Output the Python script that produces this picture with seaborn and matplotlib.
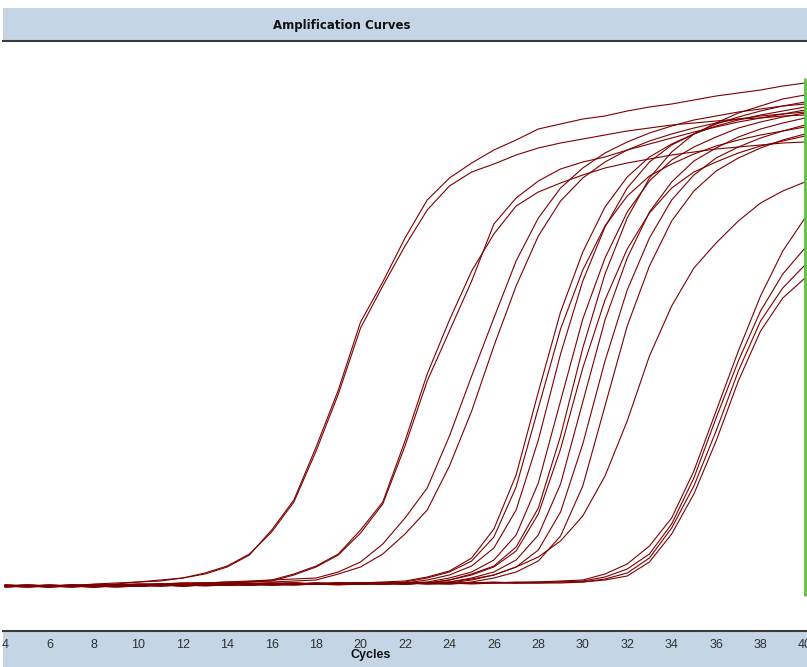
import pandas as pd
import matplotlib
matplotlib.use("Agg")
import matplotlib.pyplot as plt
import seaborn as sns
from matplotlib.patches import Rectangle

# cycle numbers and fluorescence per well (baseline ~0)
cycles = list(range(4, 41))

a1 = [0, -1, 0, 1, 1, 2, 4, 6, 8, 12, 19, 31,
      56, 86, 139, 196, 264, 304, 348, 386, 408, 423, 436, 446, 457, 462, 467, 470,
      475, 479, 482, 486, 490, 493, 496, 500, 503]
a2 = [1, 0, -1, 0, 2, 3, 4, 5, 8, 13, 20, 32,
      54, 84, 135, 192, 258, 300, 340, 376, 400, 414, 422, 431, 438, 443, 447, 451,
      455, 458, 461, 463, 465, 467, 468, 470, 471]
b1 = [-1, 0, 1, 0, 0, 1, 2, 2, 3, 3, 4, 4,
      6, 12, 20, 32, 56, 84, 145, 212, 266, 315, 352, 380, 394, 403, 411, 418,
      423, 427, 431, 434, 437, 439, 441, 443, 444]
b2 = [0, 1, 0, -1, 1, 1, 1, 2, 2, 3, 3, 4,
      5, 11, 19, 31, 53, 82, 140, 205, 255, 305, 362, 388, 405, 417, 424, 429,
      436, 442, 448, 454, 459, 464, 468, 472, 476]
c1 = [0, 0, -1, 1, 0, 1, 2, 2, 3, 3, 4, 5, 6, 7,
      8, 14, 24, 42, 68, 98, 150, 210, 268, 325, 368, 398, 418, 433, 444, 453,
      460, 466, 470, 474, 477, 480, 482]
c2 = [-1, 0, 0, 1, 1, 0, 1, 2, 2, 3, 3, 4, 4, 5,
      6, 12, 19, 32, 52, 76, 120, 175, 240, 300, 350, 385, 408, 424, 436, 445,
      452, 458, 463, 467, 470, 472, 474]
d1 = [0, 1, 0, 0, -1, 0, 1, 1, 1, 2, 2, 2, 3, 3, 2, 3,
      3, 4, 5, 9, 15, 28, 57, 111, 194, 274, 334, 379, 409, 429, 442, 452,
      460, 466, 471, 475, 479]
d2 = [1, 0, 0, -1, 0, 1, 0, 1, 2, 1, 2, 2, 3, 2, 3, 3, 3, 3,
      3, 6, 11, 20, 38, 76, 146, 232, 305, 359, 398, 424, 441, 452, 462, 469,
      475, 480, 484]
d3 = [0, -1, 0, 0, 1, 0, 0, 1, 1, 2, 1, 2, 2, 3, 2, 2, 3, 2,
      3, 4, 8, 14, 26, 51, 103, 185, 267, 328, 374, 405, 426, 439, 449, 458,
      464, 469, 473]
d4 = [0, 0, 1, 0, -1, 0, 1, 1, 0, 1, 2, 2, 1, 2, 3, 2, 3, 3, 2,
      3, 6, 12, 20, 39, 78, 150, 238, 312, 368, 408, 434, 452, 463, 473, 480,
      487, 491]
d5 = [-1, 0, 0, 1, 0, 0, 1, 0, 1, 1, 2, 1, 2, 2, 2, 3, 2, 3, 3, 3,
      4, 8, 14, 26, 51, 102, 184, 266, 328, 374, 404, 425, 438, 449, 457, 463,
      468]
d6 = [0, 1, 0, 0, 0, 1, 1, 0, 1, 2, 1, 2, 2, 3, 2, 2, 3, 3, 2, 3,
      3, 6, 11, 19, 36, 74, 142, 225, 296, 348, 386, 411, 428, 439, 448, 455,
      461]
d7 = [0, 0, -1, 0, 1, 0, 1, 1, 0, 1, 2, 1, 2, 2, 2, 3, 2, 3, 2, 3, 2,
      4, 8, 14, 25, 50, 100, 180, 260, 320, 365, 395, 415, 428, 438, 446, 452]
d8 = [1, 0, 0, 0, -1, 1, 0, 1, 1, 1, 2, 2, 2, 3, 2, 3, 3,
      3, 4, 8, 14, 25, 49, 99, 178, 257, 316, 360, 390, 410, 422, 432, 440,
      446, 451, 455, 459]
d9 = [0, 0, 0, 1, 0, -1, 0, 1, 1, 1, 1, 2, 2, 2, 3, 2, 2, 3, 3,
      3, 6, 11, 19, 35, 72, 137, 218, 286, 337, 373, 398, 414, 424, 433, 440,
      445, 450]
e1 = [0, 0, 1, 0, 0, -1, 0, 1, 1, 1, 2, 1, 2, 2, 2, 2, 3, 3, 3, 3,
      4, 7, 11, 19, 29, 45, 70, 110, 165, 230, 280, 318, 343, 365, 383, 395,
      404]
f1 = [0, -1, 0, 0, 1, 0, 0, 1, 0, 1, 1, 1, 2, 1, 2, 2, 2, 2, 3, 2, 3, 3, 3,
      4, 4, 5, 6, 12, 22, 40, 68, 115, 175, 235, 290, 335, 368]
f2 = [1, 0, 0, -1, 0, 1, 0, 0, 1, 1, 1, 2, 1, 2, 2, 2, 3, 2, 2, 3, 3, 3, 4,
      3, 4, 4, 5, 9, 17, 32, 62, 108, 168, 225, 275, 312, 338]
f3 = [0, 0, -1, 0, 0, 0, 1, 1, 0, 1, 1, 1, 1, 2, 2, 1, 2, 2, 3, 2, 2, 3, 3,
      3, 3, 4, 4, 7, 13, 28, 58, 100, 155, 215, 265, 298, 321]
f4 = [0, 1, 0, 0, -1, 0, 0, 1, 1, 0, 1, 2, 1, 1, 2, 2, 2, 2, 2, 3, 3, 2, 3,
      3, 3, 3, 4, 6, 10, 24, 52, 92, 145, 205, 255, 288, 308]

wells = {"A1": a1, "A2": a2, "B1": b1, "B2": b2, "C1": c1, "C2": c2,
         "D1": d1, "D2": d2, "D3": d3, "D4": d4, "D5": d5, "D6": d6,
         "D7": d7, "D8": d8, "D9": d9, "E1": e1,
         "F1": f1, "F2": f2, "F3": f3, "F4": f4}

xticks = list(range(4, 41, 2))
end_cycle = 40
end_marker = [-10, 508]

rows = []
for well, vals in wells.items():
    for c, v in zip(cycles, vals):
        rows.append((well, c, v))
df = pd.DataFrame(rows, columns=["well", "cycle", "rn"])

sns.set_style("white")
plt.rcParams["font.family"] = ["Liberation Sans", "DejaVu Sans"]

W, H = 807, 667
fig = plt.figure(figsize=(W / 100, H / 100), dpi=100)
bar_col = "#c4d6e6"
# header and footer bars sit behind the axes
fig.patches.append(Rectangle((3 / W, 0), 1, 36 / H, transform=fig.transFigure,
                             facecolor=bar_col, edgecolor="none", zorder=-5))
fig.patches.append(Rectangle((3 / W, (H - 40) / H), 1, 32 / H, transform=fig.transFigure,
                             facecolor=bar_col, edgecolor="none", zorder=-5))

ax = fig.add_axes([3 / W, 36 / H, 804 / W, 590 / H])
sns.lineplot(data=df, x="cycle", y="rn", units="well", estimator=None,
             color="#7d0000", lw=0.8, ax=ax, legend=False)
ax.vlines(end_cycle, end_marker[0], end_marker[1], color="#5cc43c", lw=2, zorder=5)

ax.set_xlim(3.91, 40.09)
ax.set_ylim(-45, 545)
ax.set_xticks(xticks)
ax.set_yticks([])
ax.set_xlabel("")
ax.set_ylabel("")
for s in ["left", "right"]:
    ax.spines[s].set_visible(False)
for s in ["top", "bottom"]:
    ax.spines[s].set_color("#3a3a3a")
    ax.spines[s].set_linewidth(1.5)
ax.tick_params(axis="x", direction="out", length=4, width=0.8, color="#8a8a8a",
               labelsize=9, labelcolor="#303030", pad=1.5)

fig.text(342 / W, 1 - 26 / H, "Amplification Curves", ha="center", va="center",
         fontsize=8.5, fontweight="bold", color="#111111", family="DejaVu Sans")
fig.text(371 / W, 1 - 655 / H, "Cycles", ha="center", va="center",
         fontsize=9, fontweight="bold", color="#111111")

fig.savefig("out.png", dpi=100, facecolor="white")
